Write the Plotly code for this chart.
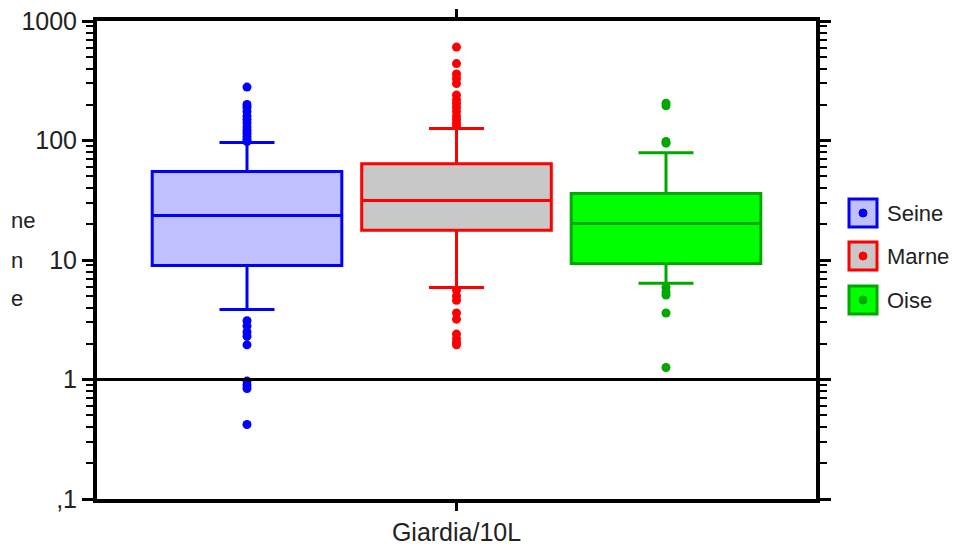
import plotly.graph_objects as go

# ---- data ----
series = ["Seine", "Marne", "Oise"]
positions = [0, 1, 2]
q1 = [9.0, 17.7, 9.35]
median = [23.6, 31.5, 20.2]
q3 = [55, 64, 36]
lowerfence = [3.85, 5.9, 6.4]
upperfence = [96, 126, 79]
outliers = {
    "Seine": [280, 200, 190, 175, 160, 150, 140, 130, 122, 115, 108, 102, 98,
              3.1, 2.8, 2.5, 2.3, 1.95, 0.97, 0.9, 0.84, 0.42],
    "Marne": [605, 440, 360, 330, 300, 240, 220, 205, 190, 175, 160, 150, 140, 132,
              5.6, 5.0, 4.6, 3.6, 3.2, 2.4, 2.2, 2.05, 1.95],
    "Oise": [205, 195, 98, 95, 5.9, 5.4, 5.1, 3.6, 1.26],
}
line_colors = ["#0000FF", "#FF0000", "#00A800"]
fill_colors = ["#C0C0FF", "#C8C8C8", "#00FF00"]
y_tickvals = [0.1, 1, 10, 100, 1000]
y_ticktext = [",1", "1", "10", "100", "1000"]
x_label = "Giardia/10L"
title_fragments = ["ne", "n", "e"]

FONT = "Liberation Sans, Arial, sans-serif"
OFF = 8  # page body margin offset
W, H = 962 - 2 * OFF, 556 - 2 * OFF
L, R, T, B = 97, 816, 21, 499  # plot area in screen pixels


def px(xp):
    return (xp - L) / (R - L)


def py(yp):
    return (B - yp) / (B - T)


fig = go.Figure()
for i, name in enumerate(series):
    fig.add_trace(go.Box(
        name=name, x=[positions[i]],
        q1=[q1[i]], median=[median[i]], q3=[q3[i]],
        lowerfence=[lowerfence[i]], upperfence=[upperfence[i]],
        width=0.905, whiskerwidth=0.29, boxpoints=False,
        line=dict(color=line_colors[i], width=3),
        fillcolor=fill_colors[i], showlegend=False,
    ))
for i, name in enumerate(series):
    fig.add_trace(go.Scatter(
        x=[positions[i]] * len(outliers[name]), y=outliers[name],
        mode="markers", marker=dict(color=line_colors[i], size=9),
        showlegend=False, hoverinfo="y", name=name,
    ))

# reference line at 1
fig.add_shape(type="line", xref="paper", x0=0, x1=1, yref="y", y0=1, y1=1,
              line=dict(color="black", width=3), layer="above")

# custom legend (icons + labels)
legend_rows = [213, 256, 300]
for i, name in enumerate(series):
    yc = legend_rows[i]
    fig.add_shape(type="rect", xref="paper", yref="paper",
                  x0=px(849), x1=px(877), y0=py(yc + 14), y1=py(yc - 14),
                  line=dict(color=line_colors[i], width=3),
                  fillcolor=fill_colors[i])
    fig.add_shape(type="circle", xref="paper", yref="paper",
                  x0=px(859), x1=px(867), y0=py(yc + 4), y1=py(yc - 4),
                  line=dict(color=line_colors[i], width=1),
                  fillcolor=line_colors[i])
    fig.add_annotation(text=name, xref="paper", yref="paper",
                       x=px(885), y=py(yc), xanchor="left", yanchor="middle",
                       showarrow=False, font=dict(size=22, color="#222222"))

minor_vals = []
for dec in [0.1, 1, 10, 100]:
    for k in range(2, 10):
        minor_vals.append(dec * k)

fig.update_layout(
    width=W, height=H,
    margin=dict(l=L - OFF, r=W - (R - OFF), t=T - OFF, b=H - (B - OFF),
                autoexpand=False),
    plot_bgcolor="white", paper_bgcolor="white",
    font=dict(family=FONT, size=25, color="#222222"),
    showlegend=False,
    xaxis=dict(range=[-0.716, 2.716], tickvals=[1], ticktext=[x_label],
               showline=True, linecolor="black", linewidth=4, mirror="ticks",
               ticks="outside", ticklen=8, tickwidth=3, tickcolor="black",
               showgrid=False, zeroline=False, automargin=False),
    yaxis=dict(type="log", range=[-1, 3], tickvals=y_tickvals, ticktext=y_ticktext,
               showline=True, linecolor="black", linewidth=4, mirror="ticks",
               ticks="outside", ticklen=11, tickwidth=3, tickcolor="black",
               showgrid=False, zeroline=False, automargin=False,
               ticklabeloverflow="allow",
               minor=dict(tickvals=minor_vals, ticks="outside", ticklen=7,
                          tickwidth=2, tickcolor="black", showgrid=False)),
)

# partially visible axis title fragments at left edge
for txt, yp in zip(title_fragments, [220, 260, 298]):
    fig.add_annotation(text=txt, xref="paper", yref="paper", x=px(9), y=py(yp),
                       xanchor="left", yanchor="middle", showarrow=False,
                       font=dict(size=22, color="#222222"))

fig.write_html("out.html")
